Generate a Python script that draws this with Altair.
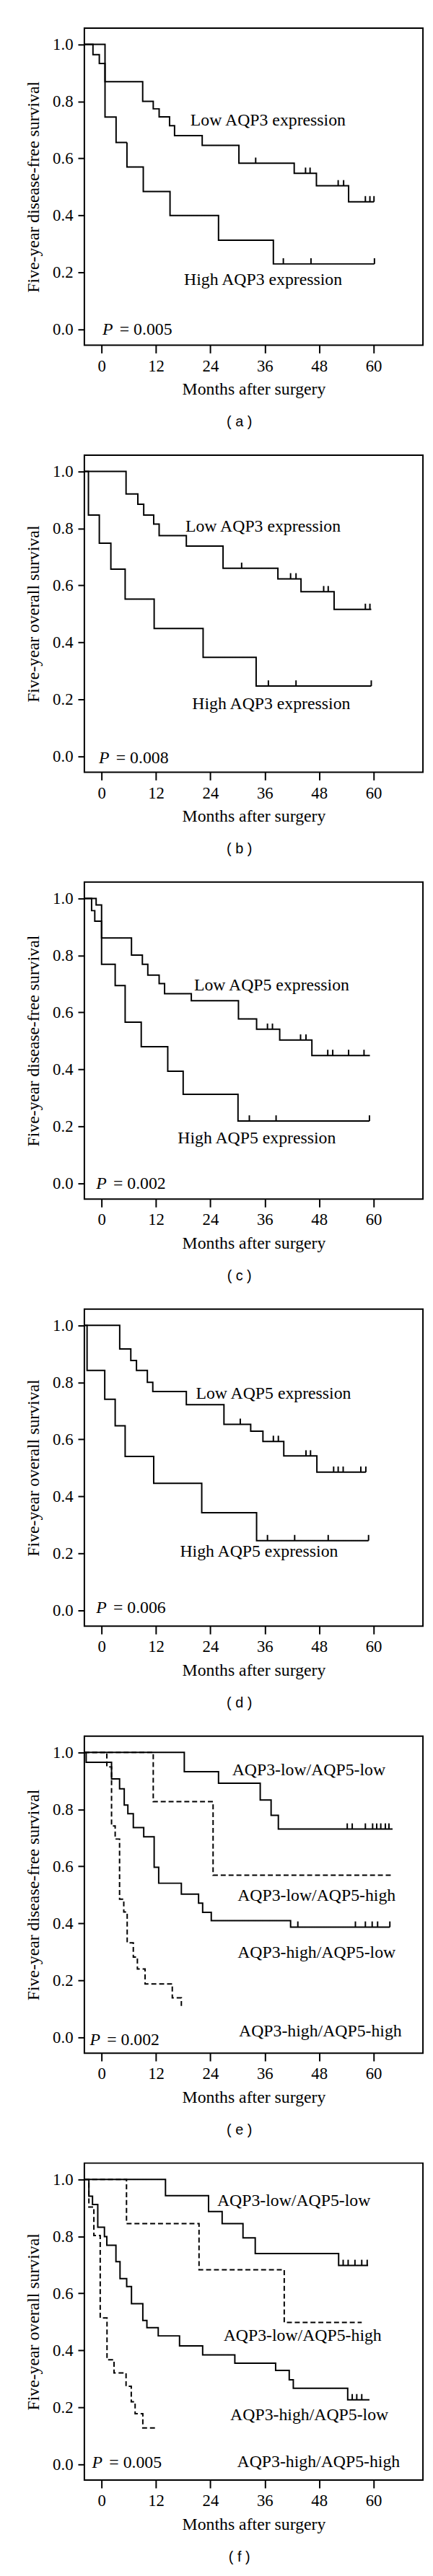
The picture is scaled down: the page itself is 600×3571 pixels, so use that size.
import altair as alt
import pandas as pd

# ---------------- data ----------------
XTICKS = [0, 12, 24, 36, 48, 60]
YTICKS = [0.0, 0.2, 0.4, 0.6, 0.8, 1.0]

# (a) disease-free survival, AQP3
a_low_t = [-3.8, -1.9, -0.5, 0.76, 9.07, 11.4, 12.7, 15.0, 16.1, 22.2, 30.3, 42.5, 47.4, 54.5, 60.1]
a_low_s = [1.0, 0.964, 0.933, 0.869, 0.800, 0.774, 0.746, 0.715, 0.680, 0.646, 0.583, 0.548, 0.504, 0.448, 0.448]
a_low_c = [34.0, 45.0, 46.0, 52.2, 53.4, 58.2, 59.2, 60.1]
a_high_t = [-3.8, 0.76, 3.2, 5.6, 9.2, 15.1, 25.8, 37.9, 60.2]
a_high_s = [1.0, 0.745, 0.656, 0.570, 0.484, 0.400, 0.313, 0.230, 0.230]
a_high_c = [40.1, 46.2, 60.2]

# (b) overall survival, AQP3
b_low_t = [-3.8, 5.4, 8.0, 9.3, 11.5, 12.7, 18.7, 26.8, 38.9, 44.0, 51.3, 59.5]
b_low_s = [1.0, 0.921, 0.885, 0.847, 0.815, 0.775, 0.738, 0.660, 0.623, 0.578, 0.516, 0.516]
b_low_c = [30.9, 41.7, 42.9, 49.0, 50.0, 58.2, 59.2]
b_high_t = [-3.8, -2.9, -0.5, 2.05, 5.2, 11.6, 22.4, 34.1, 59.5]
b_high_s = [1.0, 0.847, 0.748, 0.657, 0.552, 0.449, 0.348, 0.247, 0.247]
b_high_c = [36.8, 42.9, 59.5]

# (c) disease-free survival, AQP5
c_low_t = [-3.8, -1.2, 0.0, 6.6, 9.0, 10.2, 12.7, 13.9, 19.8, 30.2, 34.2, 39.3, 46.4, 59.2]
c_low_s = [1.0, 0.977, 0.861, 0.801, 0.769, 0.731, 0.701, 0.666, 0.641, 0.577, 0.541, 0.503, 0.449, 0.449]
c_low_c = [36.6, 37.7, 43.9, 45.1, 49.9, 51.0, 54.5, 57.9]
c_high_t = [-3.8, -2.2, -1.5, 0.0, 3.0, 5.2, 8.75, 14.6, 18.0, 30.1, 59.1]
c_high_s = [1.0, 0.957, 0.920, 0.769, 0.694, 0.566, 0.480, 0.394, 0.313, 0.219, 0.219]
c_high_c = [32.6, 38.5, 59.1]

# (d) overall survival, AQP5
d_low_t = [-3.8, 4.0, 6.45, 7.7, 10.1, 11.3, 18.7, 27.0, 32.9, 35.6, 40.2, 47.5, 58.3]
d_low_s = [1.0, 0.917, 0.877, 0.842, 0.800, 0.768, 0.722, 0.653, 0.629, 0.593, 0.542, 0.485, 0.485]
d_low_c = [30.6, 37.9, 39.0, 45.1, 46.1, 51.2, 52.2, 53.3, 57.2, 58.3]
d_high_t = [-3.8, -3.2, 0.7, 3.0, 5.2, 11.5, 22.1, 34.2, 58.9]
d_high_s = [1.0, 0.842, 0.741, 0.648, 0.540, 0.446, 0.343, 0.245, 0.245]
d_high_c = [36.6, 42.6, 50.0, 58.9]

# (e) disease-free survival, combined groups
e_ll_t = [-3.8, 18.25, 25.8, 35.0, 37.4, 39.0, 64.2]
e_ll_s = [1.0, 0.932, 0.892, 0.833, 0.779, 0.731, 0.731]
e_ll_c = [54.2, 55.3, 58.2, 59.8, 60.7, 61.6, 62.6, 63.4]
e_lh_t = [-3.8, 11.4, 24.6, 63.8]
e_lh_s = [1.0, 0.827, 0.569, 0.569]
e_lh_c = []
e_hl_t = [-3.8, -3.4, 2.2, 3.97, 5.0, 5.8, 7.0, 9.3, 11.6, 12.6, 17.6, 21.4, 22.3, 24.2, 41.7, 63.6]
e_hl_s = [1.0, 0.965, 0.907, 0.872, 0.815, 0.785, 0.736, 0.704, 0.597, 0.541, 0.503, 0.471, 0.439, 0.410, 0.387, 0.387]
e_hl_c = [43.3, 56.0, 58.2, 59.7, 60.9, 63.6]
e_hh_t = [-3.8, 1.16, 2.2, 3.0, 3.97, 4.9, 5.65, 7.0, 7.9, 9.6, 15.6, 17.6, 17.7]
e_hh_s = [1.0, 0.949, 0.742, 0.696, 0.485, 0.440, 0.332, 0.282, 0.240, 0.188, 0.139, 0.104, 0.104]
e_hh_c = []

# (f) overall survival, combined groups
f_ll_t = [-3.8, 14.1, 23.6, 26.6, 31.2, 33.9, 52.3, 58.8]
f_ll_s = [1.0, 0.943, 0.887, 0.845, 0.795, 0.740, 0.698, 0.698]
f_ll_c = [53.3, 54.4, 55.9, 57.4, 58.6]
f_lh_t = [-3.8, 5.5, 21.5, 40.3, 57.4]
f_lh_s = [1.0, 0.845, 0.683, 0.498, 0.498]
f_lh_c = []
f_hl_t = [-3.8, -2.8, -2.0, -0.84, 0.63, 1.16, 3.17, 4.07, 5.54, 6.6, 9.1, 10.0, 12.5, 17.2, 22.3, 29.4, 38.4, 41.4, 42.3, 54.3, 59.1]
f_hl_s = [1.0, 0.941, 0.912, 0.832, 0.799, 0.769, 0.711, 0.652, 0.624, 0.564, 0.505, 0.480, 0.451, 0.416, 0.384, 0.355, 0.330, 0.297, 0.267, 0.227, 0.227]
f_hl_c = [55.3, 56.3, 57.4]
f_hh_t = [-3.8, -2.8, -1.7, -0.3, 1.2, 2.75, 5.4, 6.55, 7.4, 9.1, 11.8]
f_hh_s = [1.0, 0.903, 0.803, 0.514, 0.367, 0.321, 0.274, 0.220, 0.178, 0.128, 0.128]
f_hh_c = []

DFS = "Five-year disease-free survival"
OS = "Five-year overall survival"

panels_spec = [
    dict(cap="( a )", ytitle=DFS, p="= 0.005", pt=0.2, ps=0.0,
         curves=[("low", a_low_t, a_low_s, a_low_c, "solid"), ("high", a_high_t, a_high_s, a_high_c, "solid")],
         labels=[("Low AQP3 expression", 19.6, 0.732), ("High AQP3 expression", 18.2, 0.174)]),
    dict(cap="( b )", ytitle=OS, p="= 0.008", pt=-0.6, ps=-0.007,
         curves=[("low", b_low_t, b_low_s, b_low_c, "solid"), ("high", b_high_t, b_high_s, b_high_c, "solid")],
         labels=[("Low AQP3 expression", 18.5, 0.806), ("High AQP3 expression", 20.0, 0.185)]),
    dict(cap="( c )", ytitle=DFS, p="= 0.002", pt=-1.2, ps=0.0,
         curves=[("low", c_low_t, c_low_s, c_low_c, "solid"), ("high", c_high_t, c_high_s, c_high_c, "solid")],
         labels=[("Low AQP5 expression", 20.4, 0.695), ("High AQP5 expression", 16.8, 0.159)]),
    dict(cap="( d )", ytitle=OS, p="= 0.006", pt=-1.2, ps=0.008,
         curves=[("low", d_low_t, d_low_s, d_low_c, "solid"), ("high", d_high_t, d_high_s, d_high_c, "solid")],
         labels=[("Low AQP5 expression", 20.8, 0.760), ("High AQP5 expression", 17.3, 0.206)]),
    dict(cap="( e )", ytitle=DFS, p="= 0.002", pt=-2.6, ps=-0.01,
         curves=[("ll", e_ll_t, e_ll_s, e_ll_c, "solid"), ("lh", e_lh_t, e_lh_s, e_lh_c, "dashed"),
                 ("hl", e_hl_t, e_hl_s, e_hl_c, "solid"), ("hh", e_hh_t, e_hh_s, e_hh_c, "dashed")],
         labels=[("AQP3-low/AQP5-low", 28.8, 0.938), ("AQP3-low/AQP5-high", 30.0, 0.496),
                 ("AQP3-high/AQP5-low", 30.0, 0.298), ("AQP3-high/AQP5-high", 30.3, 0.022)]),
    dict(cap="( f )", ytitle=OS, p="= 0.005", pt=-2.1, ps=0.005,
         curves=[("ll", f_ll_t, f_ll_s, f_ll_c, "solid"), ("lh", f_lh_t, f_lh_s, f_lh_c, "dashed"),
                 ("hl", f_hl_t, f_hl_s, f_hl_c, "solid"), ("hh", f_hh_t, f_hh_s, f_hh_c, "dashed")],
         labels=[("AQP3-low/AQP5-low", 25.5, 0.925), ("AQP3-low/AQP5-high", 26.9, 0.452),
                 ("AQP3-high/AQP5-low", 28.4, 0.173), ("AQP3-high/AQP5-high", 29.9, 0.008)]),
]

SERIF = "Liberation Serif"
W, H = 474, 444
XDOM = [-3.8, 70.9]
YDOM = [-0.055, 1.057]


def surv_at(ts, ss, t):
    val = ss[0]
    for ti, si in zip(ts, ss):
        if ti <= t:
            val = si
    return val


def make_panel(spec):
    rows, cens = [], []
    for name, ts, ss, cs, style in spec["curves"]:
        for i, (t, s) in enumerate(zip(ts, ss)):
            rows.append(dict(curve=name, i=i, t=t, s=s, style=style))
        for c in cs:
            cens.append(dict(curve=name, t=c, s=surv_at(ts, ss, c)))
    df = pd.DataFrame(rows)
    cdf = pd.DataFrame(cens, columns=["curve", "t", "s"])
    ldf = pd.DataFrame([dict(text=tx, t=t, s=s) for tx, t, s in spec["labels"]])
    pdf = pd.DataFrame([dict(t=spec["pt"], s=spec["ps"], p="P", rest=spec["p"])])

    xenc = alt.X("t:Q", scale=alt.Scale(domain=XDOM, nice=False, zero=False),
                 axis=alt.Axis(values=XTICKS, title="Months after surgery"))
    yenc = alt.Y("s:Q", scale=alt.Scale(domain=YDOM, nice=False, zero=False),
                 axis=alt.Axis(values=YTICKS, format=".1f", title=spec["ytitle"]))

    lines = alt.Chart(df).mark_line(interpolate="step-after", color="black", strokeWidth=2).encode(
        x=xenc, y=yenc, detail="curve:N", order=alt.Order("i:Q"),
        strokeDash=alt.StrokeDash("style:N", scale=alt.Scale(domain=["solid", "dashed"], range=[[1, 0], [7, 4]]),
                                  legend=None))
    layers = [lines]
    if len(cdf):
        ticks = alt.Chart(cdf).transform_calculate(top="datum.s + 0.02").mark_rule(
            color="black", strokeWidth=2).encode(x=xenc, y=yenc, y2=alt.Y2("top:Q"))
        layers.append(ticks)
    texts = alt.Chart(ldf).mark_text(align="left", baseline="middle", font=SERIF, fontSize=24,
                                     color="black").encode(x=xenc, y=yenc, text="text:N")
    ptxt = alt.Chart(pdf).mark_text(align="left", baseline="middle", font=SERIF, fontSize=24,
                                    fontStyle="italic", color="black").encode(x=xenc, y=yenc, text="p:N")
    rtxt = alt.Chart(pdf).mark_text(align="left", baseline="middle", font=SERIF, fontSize=24, dx=24,
                                    color="black").encode(x=xenc, y=yenc, text="rest:N")
    layers += [texts, ptxt, rtxt]
    return alt.layer(*layers).properties(
        width=W, height=H,
        title=alt.TitleParams(spec["cap"], orient="bottom", font="Liberation Sans", fontSize=20,
                              fontWeight="normal", color="black", offset=24, frame="group", dx=-20))


panels = [make_panel(s) for s in panels_spec]

chart = alt.vconcat(*panels, spacing=34).configure_view(
    stroke="black", strokeWidth=2
).configure_axis(
    domain=False, grid=False, tickColor="black", tickWidth=2, labelColor="black", titleColor="black",
    labelFont=SERIF, labelFontSize=23, titleFont=SERIF, titleFontSize=24, titleFontWeight="normal"
).configure_axisX(
    tickSize=11, labelPadding=7, titlePadding=9
).configure_axisY(
    tickSize=9, labelPadding=7, titlePadding=14
).properties(
    padding={"left": 26, "top": 12, "right": 5, "bottom": 5},
    background="white"
)

chart.save("out.html", embed_options={"renderer": "svg", "actions": False})
